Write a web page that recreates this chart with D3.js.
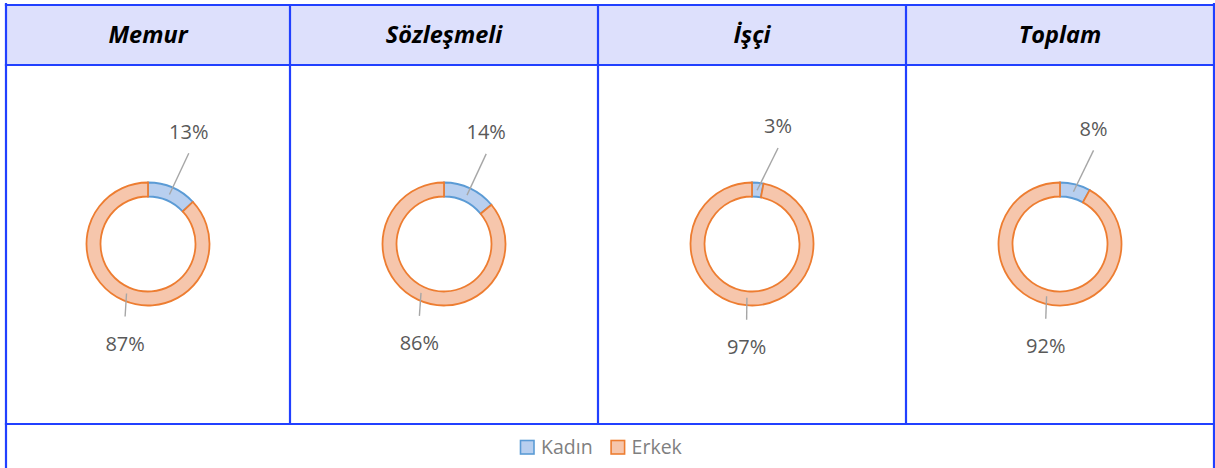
<!DOCTYPE html>
<html>
<head>
<meta charset="utf-8">
<script src="https://cdn.jsdelivr.net/npm/d3@7"></script>
<style>
  html, body { margin: 0; padding: 0; background: #ffffff; }
  svg { display: block; }
</style>
</head>
<body>
<svg id="chart" width="1215" height="468"></svg>
<script>
// ---- data ----
const categories = ["Memur", "Sözleşmeli", "İşçi", "Toplam"];
const seriesNames = ["Kadın", "Erkek"];
const kadin = [13, 14, 3, 8];
const erkek = [87, 86, 97, 92];

// ---- layout ----
const W = 1215, H = 468;
const gridColor = "#2140ff";
const colEdges = [6, 290, 598, 906, 1214];
const topY = 5, headY = 65, legY = 424;
const cy = 244;
const rOuter = 61.5, rInner = 47.5;

const svg = d3.select("#chart");
const defs = svg.append("defs");

const gradStops = {
  "Kadın": ["#b8cfef", "#9dbde8"],
  "Erkek": ["#f6c6ac", "#f4a27c"]
};
const strokeColor = d3.scaleOrdinal().domain(seriesNames).range(["#5b9bd5", "#ed7d31"]);

seriesNames.forEach((s, i) => {
  const g = defs.append("linearGradient")
    .attr("id", "grad" + i)
    .attr("gradientUnits", "userSpaceOnUse")
    .attr("x1", 0).attr("x2", 0)
    .attr("y1", cy - rOuter).attr("y2", cy + rOuter);
  g.append("stop").attr("offset", "0%").attr("stop-color", gradStops[s][0]);
  g.append("stop").attr("offset", "100%").attr("stop-color", gradStops[s][1]);
});
const fillFor = s => "url(#grad" + seriesNames.indexOf(s) + ")";

// header background
svg.append("rect")
  .attr("x", colEdges[0]).attr("y", topY)
  .attr("width", colEdges[4] - colEdges[0]).attr("height", headY - topY)
  .attr("fill", "#dde0fc");

// column scale (centers)
const colCenter = i => (colEdges[i] + colEdges[i + 1]) / 2;

// header titles
svg.selectAll("text.head")
  .data(categories)
  .join("text")
  .attr("class", "head")
  .attr("x", (d, i) => colCenter(i))
  .attr("y", (topY + headY) / 2)
  .attr("dy", "0.36em")
  .attr("text-anchor", "middle")
  .attr("font-family", "'Open Sans', sans-serif")
  .attr("font-weight", "bold")
  .attr("font-style", "italic")
  .attr("font-size", 23.5)
  .attr("fill", "#000")
  .text(d => d);

// donuts
const pie = d3.pie().sort(null).value(d => d.value);
const arc = d3.arc().innerRadius(rInner).outerRadius(rOuter);
const toRad = deg => deg * Math.PI / 180;
const polar = (r, a) => [r * Math.sin(a), -r * Math.cos(a)];

categories.forEach((cat, i) => {
  const data = [
    { name: seriesNames[0], value: kadin[i] },
    { name: seriesNames[1], value: erkek[i] }
  ];
  const arcs = pie(data);
  const g = svg.append("g").attr("transform", `translate(${colCenter(i)},${cy})`);

  g.selectAll("path")
    .data(arcs)
    .join("path")
    .attr("d", arc)
    .attr("fill", d => fillFor(d.data.name))
    .attr("stroke", d => strokeColor(d.data.name))
    .attr("stroke-width", 1.8)
    .attr("stroke-linejoin", "miter");

  arcs.forEach((a, k) => {
    const mid = (a.startAngle + a.endAngle) / 2;
    const p0 = polar(54, mid);
    let p1, tx, ty;
    if (k === 0) {
      const th = toRad(12.5) + 0.5 * mid;
      p1 = polar(99.5, th);
      tx = p1[0]; ty = p1[1] - 14.5;
    } else {
      const th = Math.PI + 0.75 * (mid - Math.PI);
      p1 = polar(76, th);
      tx = p1[0]; ty = p1[1] + 34.5;
    }
    g.append("line")
      .attr("x1", p0[0]).attr("y1", p0[1])
      .attr("x2", p1[0]).attr("y2", p1[1])
      .attr("stroke", "#a6a6a6")
      .attr("stroke-width", 1.4);
    g.append("text")
      .attr("x", tx).attr("y", ty)
      .attr("text-anchor", "middle")
      .attr("font-family", "'Open Sans', sans-serif")
      .attr("font-size", 20)
      .attr("fill", "#595959")
      .text(a.data.value + "%");
  });
});

// grid lines
const lines = [];
lines.push([colEdges[0], topY, colEdges[4], topY]);
lines.push([colEdges[0], headY, colEdges[4], headY]);
lines.push([colEdges[0], legY, colEdges[4], legY]);
lines.push([colEdges[0], topY - 1, colEdges[0], H]);
lines.push([colEdges[4], topY - 1, colEdges[4], H]);
for (let i = 1; i < 4; i++) lines.push([colEdges[i], topY, colEdges[i], legY]);
svg.selectAll("line.grid")
  .data(lines)
  .join("line")
  .attr("class", "grid")
  .attr("x1", d => d[0]).attr("y1", d => d[1])
  .attr("x2", d => d[2]).attr("y2", d => d[3])
  .attr("stroke", gridColor)
  .attr("stroke-width", 2.2)
  .attr("stroke-linecap", "square");

// legend
const leg = svg.append("g");
let lx = 520.5;
seriesNames.forEach(s => {
  leg.append("rect")
    .attr("x", lx).attr("y", 440.5)
    .attr("width", 13.5).attr("height", 13.5)
    .attr("fill", fillFor(s) === "" ? "#ccc" : gradStops[s][0])
    .attr("stroke", strokeColor(s))
    .attr("stroke-width", 1.6);
  const t = leg.append("text")
    .attr("x", lx + 20.5).attr("y", 453.5)
    .attr("font-family", "'Open Sans', sans-serif")
    .attr("font-size", 19.5)
    .attr("fill", "#7f7f7f")
    .text(s);
  lx = lx + 20.5 + t.node().getComputedTextLength() + 18.5;
});
</script>
</body>
</html>
